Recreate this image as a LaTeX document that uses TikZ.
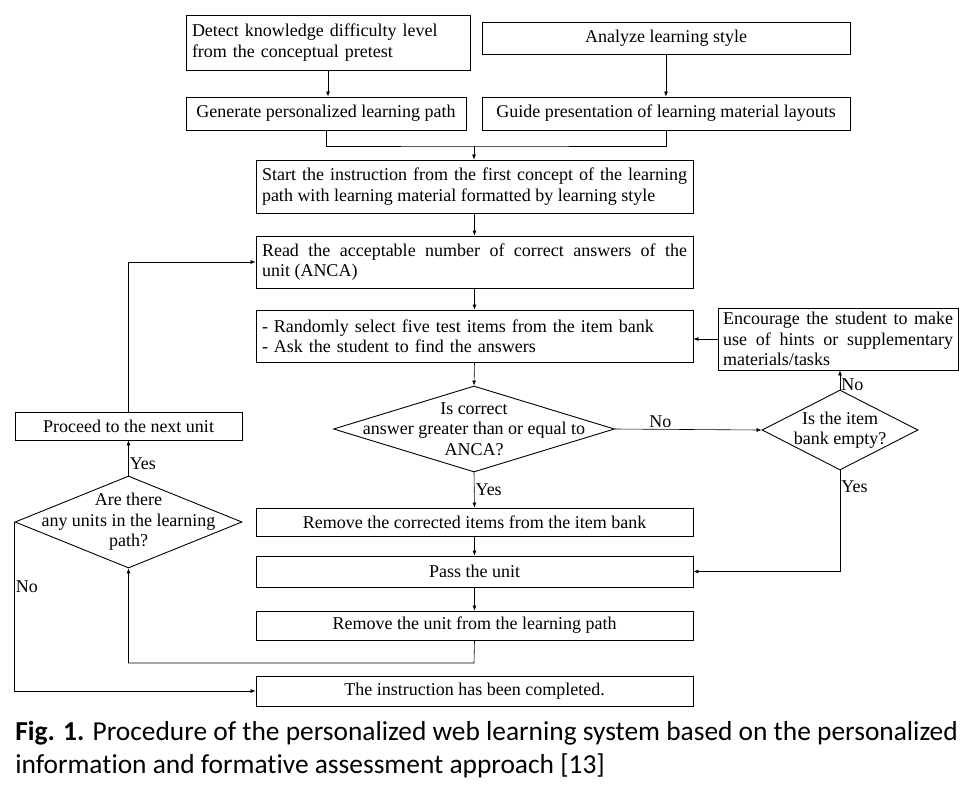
\documentclass[tikz,border=0pt]{standalone}
\usepackage{fontspec}
\setmainfont{Liberation Serif}
\newfontfamily\capfont[Ligatures=NoCommon]{Carlito}
\usetikzlibrary{arrows.meta,shapes.geometric,positioning,calc,shadows}

\begin{document}
\begin{tikzpicture}[x=1pt,y=-1pt,>={Latex[length=5pt,width=4pt]},
                    semithick,font=\fontsize{18}{20.5}\selectfont,
                    box node/.style={rectangle,draw,line width=0.9pt,inner sep=3pt,fill=white,
                      drop shadow={shadow xshift=1.2pt,shadow yshift=-1.2pt,fill=black!45,opacity=0.8}},
                    check node/.style={diamond,draw,line width=0.9pt,inner sep=0pt,fill=white},
                    check text/.style={align=center,inner sep=0pt},
                    tag/.style={inner sep=1pt}]
\useasboundingbox (0,0) rectangle (979,804);

% top row
\node[box node,minimum width=284pt,minimum height=55pt,text width=272pt,align=left] (DetectBox) at (328,42.5)
  {Detect knowledge difficulty level\\from the conceptual pretest};
\node[box node,minimum width=368pt,minimum height=32pt] (StyleBox) at (666,38) {Analyze learning style};
\node[box node,minimum width=280pt,minimum height=33pt] (PathBox) at (326,113.5) {Generate personalized learning path};
\node[box node,minimum width=368pt,minimum height=33pt] (LayoutBox) at (666,113.5) {Guide presentation of learning material layouts};

% main column
\node[box node,minimum width=437pt,minimum height=53pt,text width=425pt,align=justify] (StartBox) at (474.5,186.5)
  {Start the instruction from the first concept of the learning\linebreak path with learning material formatted by learning style};
\node[box node,minimum width=437pt,minimum height=52pt,text width=425pt,align=justify] (ReadBox) at (474.5,262)
  {Read the acceptable number of correct answers of the\linebreak unit (ANCA)};
\node[box node,minimum width=437pt,minimum height=52pt,text width=425pt,align=left] (TestBox) at (474.5,336)
  {- Randomly select five test items from the item bank\\- Ask the student to find the answers};
\node[check node,minimum width=281pt,minimum height=86pt] (AncaDia) at (474,429) {};
\node[check text] (AncaText) at (AncaDia) {Is correct\\answer greater than or equal to\\ANCA?};
\node[box node,minimum width=437pt,minimum height=28pt] (BankBox) at (474.5,522) {Remove the corrected items from the item bank};
\node[box node,minimum width=437pt,minimum height=31pt] (PassBox) at (474.5,571.5) {Pass the unit};
\node[box node,minimum width=437pt,minimum height=29pt] (UnitBox) at (474.5,625.5) {Remove the unit from the learning path};
\node[box node,minimum width=437pt,minimum height=30pt] (DoneBox) at (474.5,691) {The instruction has been completed.};

% right side
\node[box node,minimum width=240pt,minimum height=62pt,text width=230pt,align=justify] (HintBox) at (838,339)
  {Encourage the student to make\linebreak use of hints or supplementary\linebreak materials/tasks};
\node[check node,minimum width=156pt,minimum height=80pt] (EmptyDia) at (840,430) {};
\node[check text] (EmptyText) at (EmptyDia) {Is the item\\bank empty?};

% left side
\node[box node,minimum width=227pt,minimum height=28pt] (NextBox) at (128.5,426) {Proceed to the next unit};
\node[check node,minimum width=227pt,minimum height=92pt] (UnitsDia) at (128.5,522) {};
\node[check text] (UnitsText) at (UnitsDia) {Are there\\any units in the learning\\path?};

\coordinate (JoinTop) at (474,146);
\coordinate (LoopBack) at (474,663);

\draw[->] (DetectBox.south) -- (DetectBox.south |- PathBox.north);
\draw[->] (StyleBox.south) -- (LayoutBox.north);
\draw (PathBox.south) |- (JoinTop) -| (LayoutBox.south);
\draw[->] (JoinTop) -- (JoinTop |- StartBox.north);
\draw[->] (StartBox.south) -- (ReadBox.north);
\draw[->] (ReadBox.south) -- (TestBox.north);
\draw[->] (TestBox.south) -- (AncaDia.north);
\draw[->] (AncaDia.east) -- node[tag,above,pos=0.31] {No} (EmptyDia.west);
\draw[->] (EmptyDia.north) -- node[tag,right,pos=0.25] {No} (HintBox.south -| EmptyDia.north);
\draw[->] (HintBox.west) -- (HintBox.west -| TestBox.east);
\draw[->] (EmptyDia.south) |- node[tag,right,pos=0.08] {Yes} (PassBox.east);
\draw[->] (AncaDia.south) -- node[tag,right,pos=0.5] {Yes} (BankBox.north);
\draw[->] (BankBox.south) -- (PassBox.north);
\draw[->] (PassBox.south) -- (UnitBox.north);
\draw[->] (UnitBox.south) -- (LoopBack) -| (UnitsDia.south);
\draw[->] (UnitsDia.north) -- node[tag,right,pos=0.35] {Yes} (NextBox.south);
\draw[->] (NextBox.north) |- (ReadBox.west);
\draw[->] (UnitsDia.west) |- node[tag,right,pos=0.19] {No} (DoneBox.west);

% caption
\node[anchor=north west,inner sep=0pt,align=left,font=\capfont\fontsize{27.4}{32.5}\selectfont] (FigCaption) at (15,721)
  {\textbf{Fig. 1.} Procedure of the personalized web learning system based on the personalized\\information and formative assessment approach [13]};
\end{tikzpicture}
\end{document}
